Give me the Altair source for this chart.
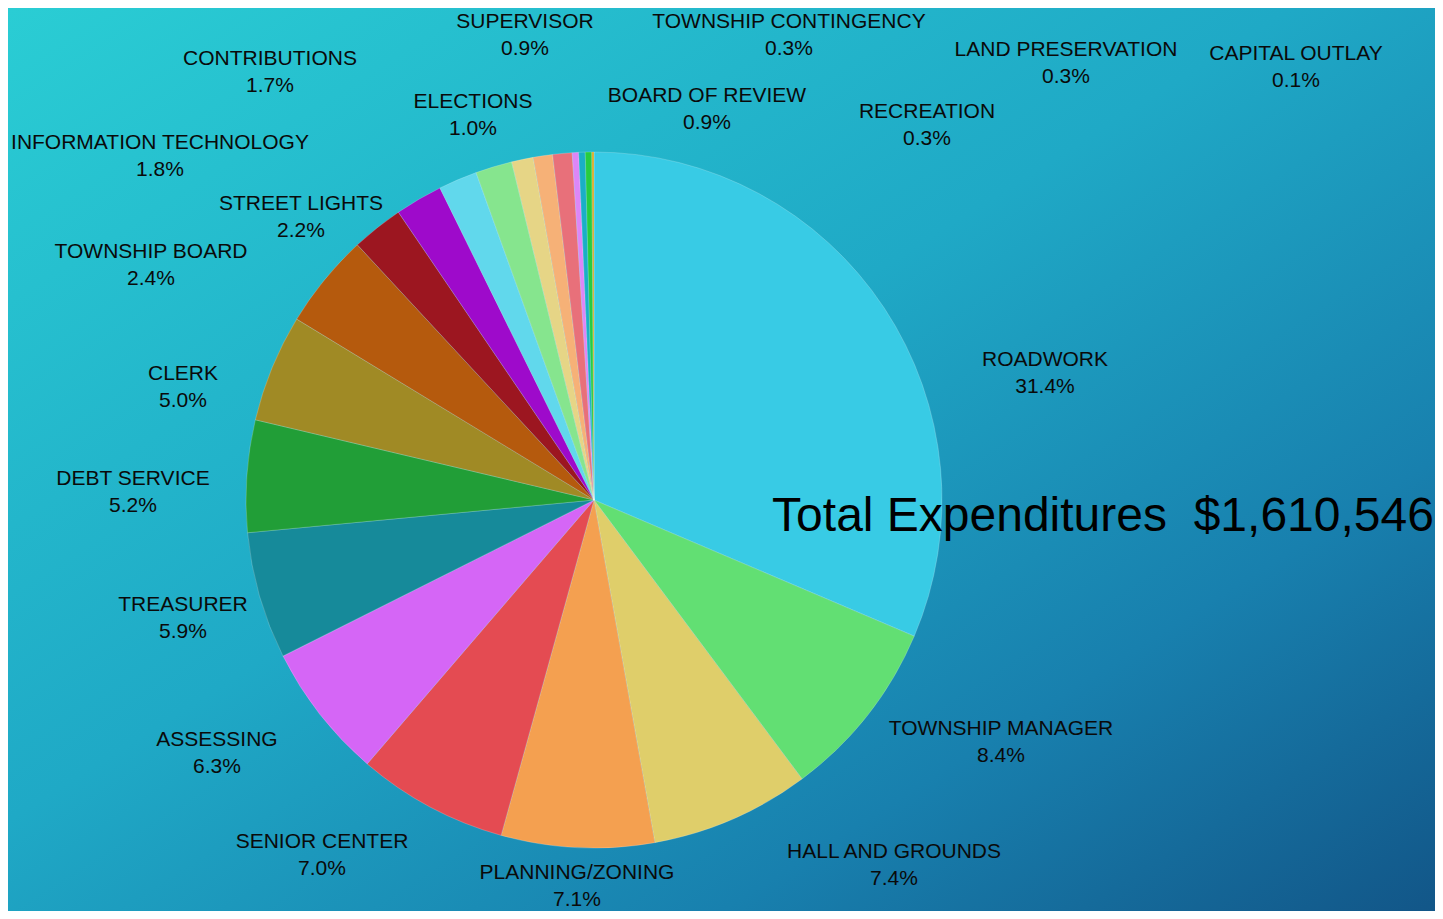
import altair as alt
import pandas as pd

# ---- data ----
names = ["ROADWORK", "TOWNSHIP MANAGER", "HALL AND GROUNDS", "PLANNING/ZONING",
         "SENIOR CENTER", "ASSESSING", "TREASURER", "DEBT SERVICE", "CLERK",
         "(UNLABELED)", "TOWNSHIP BOARD", "STREET LIGHTS", "INFORMATION TECHNOLOGY",
         "CONTRIBUTIONS", "ELECTIONS", "SUPERVISOR", "BOARD OF REVIEW",
         "TOWNSHIP CONTINGENCY", "RECREATION", "LAND PRESERVATION", "CAPITAL OUTLAY"]
shares = [31.4, 8.4, 7.4, 7.1, 7.0, 6.3, 5.9, 5.2, 5.0, 4.4, 2.4, 2.2, 1.8,
          1.7, 1.0, 0.9, 0.9, 0.3, 0.3, 0.3, 0.1]
total_label = "Total Expenditures\u00a0\u00a0$1,610,546"

# ---- styles / layout ----
colors = ["#38CBE5", "#62DF73", "#DFCE6A", "#F4A050", "#E44B52", "#D566F6",
          "#168A9A", "#219E37", "#A08A25", "#B55A0D", "#9C1620", "#9E0ACB",
          "#61D8EC", "#86E58E", "#E6D586", "#F6B177", "#E8707A", "#DD86F7",
          "#1AAFC6", "#27CC41", "#DBA927"]
show_label = [True] * 9 + [False] + [True] * 11
# label anchor (centre x, baseline of first line) in page pixels
label_x = [1045, 1001, 894, 577, 322, 217, 183, 133, 183, 0, 151, 301, 160,
           270, 473, 525, 707, 789, 927, 1066, 1296]
label_y = [366, 735, 858, 879, 848, 746, 611, 485, 380, 0, 258, 210, 149,
           65, 108, 28, 102, 28, 118, 56, 60]

W, H = 1427, 903
FONT = "Liberation Sans"
LABEL_SIZE = 21
LINE_GAP = 27
PIE_CX, PIE_CY, PIE_R = 586, 492, 348

df = pd.DataFrame({
    "idx": list(range(len(names))),
    "name": names,
    "share": shares,
    "pct": [f"{v:.1f}%" for v in shares],
    "lx": label_x,
    "ly": label_y,
    "show": show_label,
})
lab = df[df["show"]].copy()

xs = alt.Scale(domain=[8, 8 + W])
ys = alt.Scale(domain=[8 + H, 8])

gradient = {
    "gradient": "linear", "x1": 0, "y1": 0, "x2": 1, "y2": 1,
    "stops": [
        {"offset": 0.0, "color": "#2ACDD4"},
        {"offset": 0.45, "color": "#1FA9C6"},
        {"offset": 0.75, "color": "#1880AE"},
        {"offset": 1.0, "color": "#125688"},
    ],
}

bg = alt.Chart(alt.Data(values=[{}])).mark_rect(fill=gradient).encode(
    x=alt.value(0), x2=alt.value(W), y=alt.value(0), y2=alt.value(H)
)

pie = alt.Chart(df).mark_arc(
    radius=PIE_R, stroke="#ffffff", strokeOpacity=0.25, strokeWidth=0.8
).encode(
    theta=alt.Theta("share:Q", stack=True),
    color=alt.Color("name:N", scale=alt.Scale(domain=names, range=colors), legend=None),
    order=alt.Order("idx:Q", sort="ascending"),
    x=alt.value(PIE_CX),
    y=alt.value(PIE_CY),
)

name_text = alt.Chart(lab).mark_text(
    font=FONT, fontSize=LABEL_SIZE, color="#0A0A0A", align="center", baseline="alphabetic"
).encode(
    x=alt.X("lx:Q", scale=xs, axis=None),
    y=alt.Y("ly:Q", scale=ys, axis=None),
    text="name:N",
)

pct_text = alt.Chart(lab).mark_text(
    font=FONT, fontSize=LABEL_SIZE, color="#0A0A0A", align="center", baseline="alphabetic",
    dy=LINE_GAP
).encode(
    x=alt.X("lx:Q", scale=xs, axis=None),
    y=alt.Y("ly:Q", scale=ys, axis=None),
    text="pct:N",
)

title_df = pd.DataFrame({"t": [total_label], "tx": [1103], "ty": [531]})
title = alt.Chart(title_df).mark_text(
    font=FONT, fontSize=48, color="#000000", align="center", baseline="alphabetic"
).encode(
    x=alt.X("tx:Q", scale=xs, axis=None),
    y=alt.Y("ty:Q", scale=ys, axis=None),
    text="t:N",
)

chart = alt.layer(bg, pie, name_text, pct_text, title).properties(
    width=W, height=H, padding=0, autosize="none", background="#1FA9C6"
).configure_view(strokeWidth=0)

chart.save("out.html", embed_options={"renderer": "svg", "actions": False})
